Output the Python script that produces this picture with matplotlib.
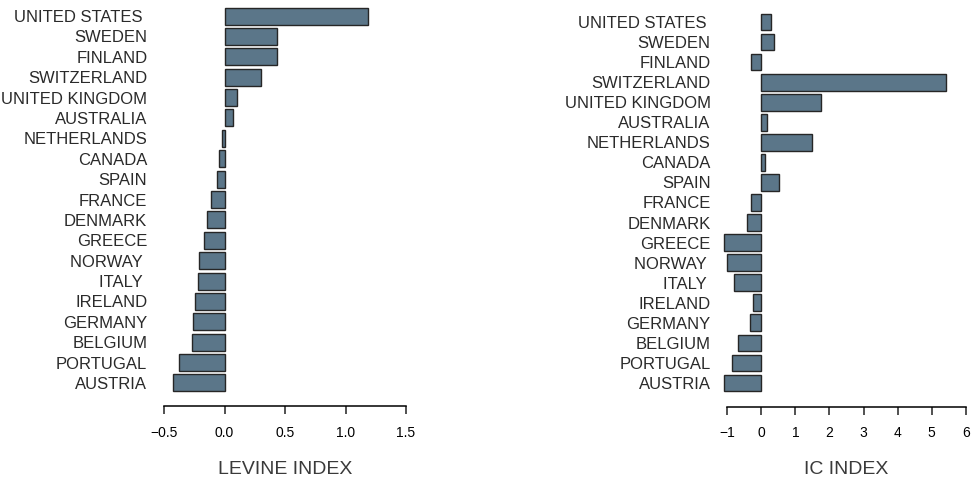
import matplotlib
matplotlib.use("Agg")
import matplotlib.pyplot as plt

plt.rcParams["font.family"] = ["Liberation Sans", "DejaVu Sans"]

countries = ["UNITED STATES ", "SWEDEN", "FINLAND", "SWITZERLAND", "UNITED KINGDOM",
             "AUSTRALIA", "NETHERLANDS", "CANADA", "SPAIN", "FRANCE", "DENMARK",
             "GREECE", "NORWAY ", "ITALY ", "IRELAND", "GERMANY", "BELGIUM",
             "PORTUGAL", "AUSTRIA"]
levine = [1.19, 0.43, 0.43, 0.30, 0.10, 0.07, -0.02, -0.045, -0.06, -0.115, -0.145,
          -0.17, -0.21, -0.22, -0.245, -0.26, -0.27, -0.375, -0.425]
ic = [0.28, 0.36, -0.29, 5.41, 1.75, 0.16, 1.50, 0.12, 0.51, -0.30, -0.42,
      -1.09, -1.01, -0.80, -0.24, -0.33, -0.68, -0.86, -1.09]

levine_ticks = [-0.5, 0.0, 0.5, 1.0, 1.5]
levine_ticklabels = ["\u22120.5", "0.0", "0.5", "1.0", "1.5"]
ic_ticks = [-1, 0, 1, 2, 3, 4, 5, 6]
ic_ticklabels = ["\u22121", "0", "1", "2", "3", "4", "5", "6"]

W, H = 973, 491
fig = plt.figure(figsize=(W / 100, H / 100), dpi=100)

FILL = "#5b7689"
EDGE = "#262626"


def panel(rect_px, values, xlim, ticks, ticklabels, xlabel, outward):
    x0, y0, x1, y1 = rect_px
    ax = fig.add_axes([x0 / W, (H - y1) / H, (x1 - x0) / W, (y1 - y0) / H])
    pos = list(range(len(countries)))
    ax.barh(pos, values, height=0.833, color=FILL, edgecolor=EDGE, linewidth=1.0,
            clip_on=False)
    ax.set_xlim(*xlim)
    ax.set_ylim(len(countries) - 0.4, -0.6)
    ax.set_yticks(pos)
    ax.set_yticklabels(countries, fontsize=12, color="#2a2a2a")
    ax.tick_params(axis="y", length=0, pad=12)
    ax.set_xticks(ticks)
    ax.set_xticklabels(ticklabels, fontsize=12, color="#3a3a3a")
    ax.tick_params(axis="x", length=6, width=1.1, pad=8, color="#222222")
    for s in ["top", "right", "left"]:
        ax.spines[s].set_visible(False)
    ax.spines["bottom"].set_position(("outward", outward))
    ax.spines["bottom"].set_bounds(ticks[0], ticks[-1])
    ax.spines["bottom"].set_linewidth(1.1)
    ax.set_xlabel(xlabel, fontsize=14, color="#3a3a3a", labelpad=15)
    ax.patch.set_alpha(0)
    return ax


panel((164, 3.8, 406, 395.2), levine, (-0.5, 1.5), levine_ticks, levine_ticklabels,
      "LEVINE INDEX", 8)
panel((727.3, 10, 965.7, 395), ic, (-1, 6), ic_ticks, ic_ticklabels,
      "IC INDEX", 8.6)

fig.savefig("out.png", dpi=100)
